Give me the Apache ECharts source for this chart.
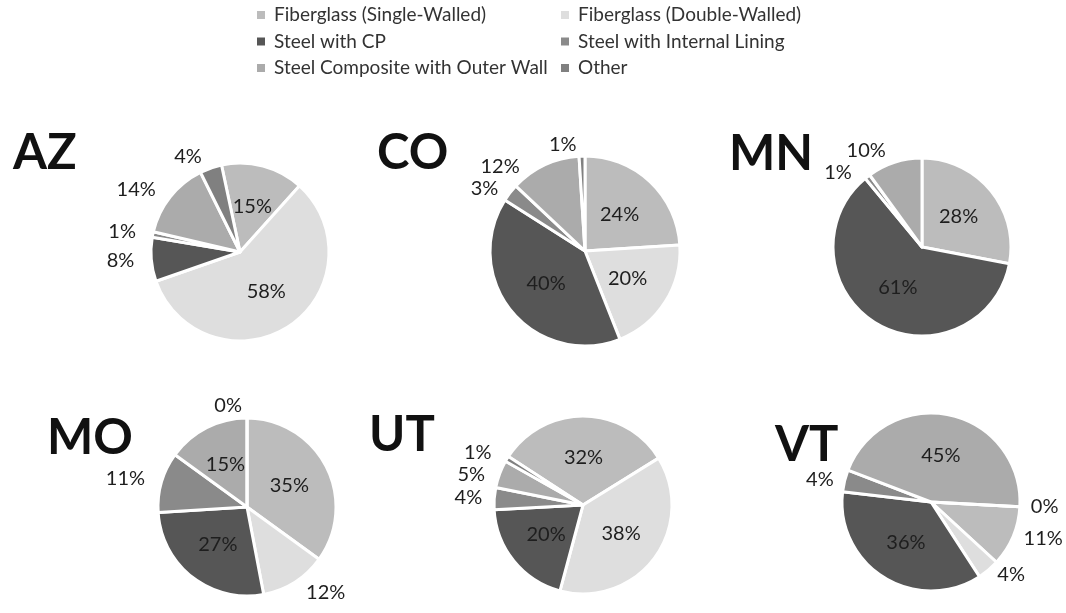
<!DOCTYPE html>
<html lang="en">
<head>
    <meta charset="UTF-8">
    <title>Tank construction by state</title>
    <script src="https://cdn.jsdelivr.net/npm/echarts@6/dist/echarts.min.js"></script>
    <style>
        html, body { margin: 0; padding: 0; background: #fff; }
        #chart { width: 1066px; height: 613px; }
    </style>
</head>
<body>
    <div id="chart"></div>

    <script>
        // data (percent per state)
        const categories = [
            'Fiberglass (Single-Walled)',
            'Fiberglass (Double-Walled)',
            'Steel with CP',
            'Steel with Internal Lining',
            'Steel Composite with Outer Wall',
            'Other'
        ];
        const states = ['AZ', 'CO', 'MN', 'MO', 'UT', 'VT'];
        const azValues = [15, 58, 8, 1, 14, 4];
        const coValues = [24, 20, 40, 3, 12, 1];
        const mnValues = [28, null, 61, 1, 10, null]; // no label shown -> not in chart
        const moValues = [35, 12, 27, 11, 15, 0];
        const utValues = [32, 38, 20, 4, 5, 1];
        const vtValues = [11, 4, 36, 4, 45, 0];
        const stateValues = [azValues, coValues, mnValues, moValues, utValues, vtValues];

        // styling / layout
        const colors = ['#bcbcbc', '#dedede', '#565656', '#8a8a8a', '#ababab', '#808080'];
        const font = 'Lato, "Open Sans", sans-serif';
        const layout = [
            { center: [240, 252], r: 89, start: 102, len: 12, title: [8, 124] },
            { center: [585, 251], r: 95, start: 90,  len: 12, title: [372, 124] },
            { center: [922, 247], r: 89, start: 90,  len: 12, title: [724, 125] },
            { center: [247, 507], r: 89, start: 90,  len: 12, title: [42, 409] },
            { center: [583, 505], r: 89, start: 147, len: 12, title: [364, 406] },
            { center: [931, 502], r: 89, start: -3,  len: 6,  title: [770, 416] }
        ];

        const chart = echarts.init(document.getElementById('chart'), null, { renderer: 'canvas' });

        const series = states.map((st, s) => {
            const data = categories.map((name, i) => {
                const v = stateValues[s][i];
                if (v === null) return null;
                const inside = v >= 15;
                return {
                    name: name,
                    value: v,
                    itemStyle: { color: colors[i] },
                    label: { position: inside ? 'inside' : 'outside' }
                };
            }).filter(d => d);
            return {
                type: 'pie',
                name: st,
                center: layout[s].center,
                radius: [0, layout[s].r],
                startAngle: layout[s].start,
                clockwise: true,
                animation: false,
                avoidLabelOverlap: true,
                itemStyle: { borderColor: '#fff', borderWidth: 3 },
                label: {
                    formatter: '{c}%',
                    fontFamily: font,
                    fontSize: 20,
                    width: 60,
                    color: '#1e1e1e'
                },
                labelLine: { show: false, length: layout[s].len, length2: 0 },
                emphasis: { disabled: true },
                data: data
            };
        });

        const titles = states.map((st, s) => ({
            text: st,
            left: layout[s].title[0],
            top: layout[s].title[1],
            textStyle: { fontFamily: font, fontWeight: 'bold', fontSize: 49, color: '#111' }
        }));

        const legendText = { fontFamily: font, fontSize: 19, color: '#333', lineHeight: 20, padding: [0, 0, 0, 3] };
        const legends = [
            { data: [categories[0], categories[2], categories[4]], left: 255, top: 5 },
            { data: [categories[1], categories[3], categories[5]], left: 559, top: 5 }
        ].map(l => Object.assign({
            orient: 'vertical',
            icon: 'rect',
            itemWidth: 10,
            itemHeight: 10,
            itemGap: 6.5,
            padding: 0,
            selectedMode: false,
            textStyle: legendText
        }, l));

        chart.setOption({
            backgroundColor: '#fff',
            animation: false,
            title: titles,
            legend: legends,
            series: series
        });
    </script>
</body>
</html>
